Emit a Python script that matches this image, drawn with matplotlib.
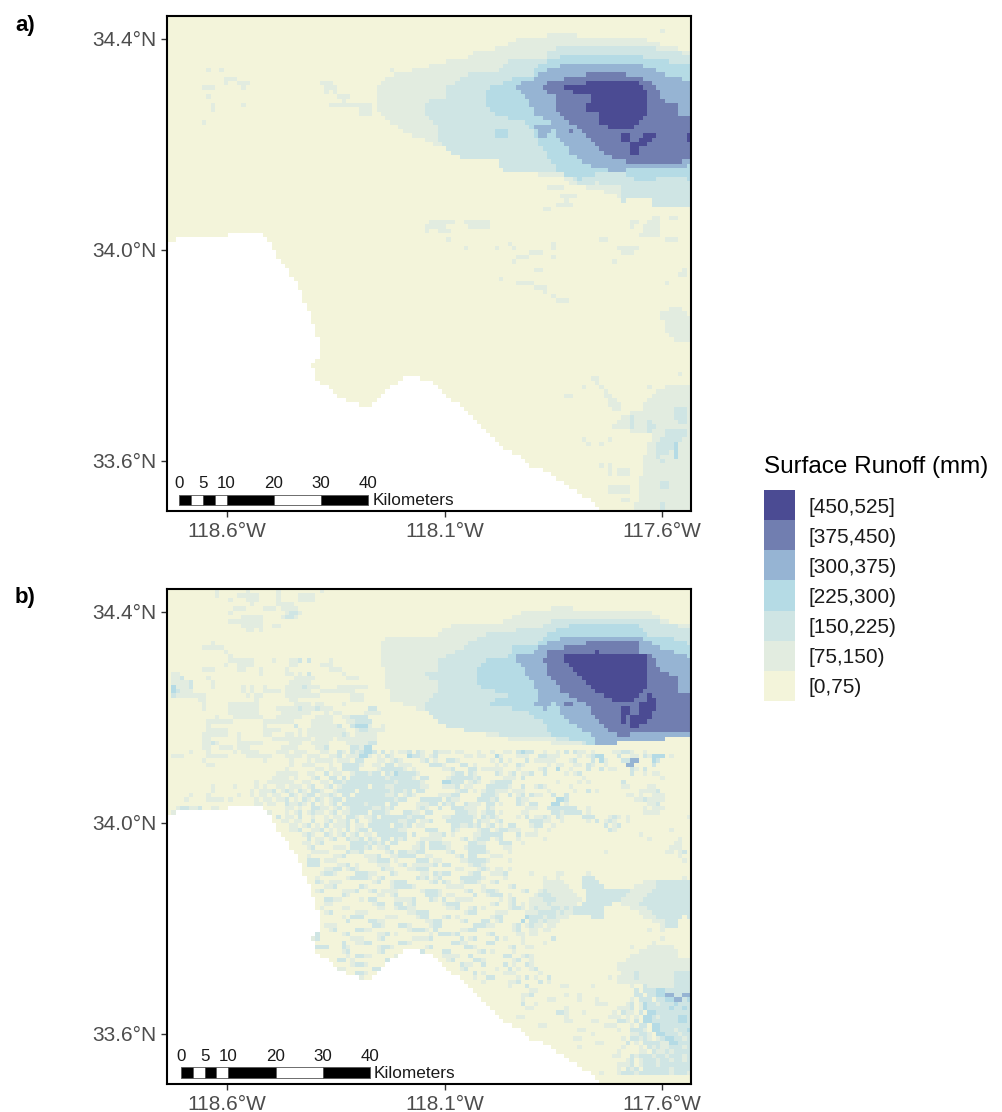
import numpy as np
import matplotlib
matplotlib.use("Agg")
import matplotlib.pyplot as plt
from matplotlib.colors import ListedColormap
from matplotlib.path import Path

plt.rcParams['font.family'] = ['Liberation Sans', 'DejaVu Sans']

# legend classes, low to high
class_labels = ["[0,75)", "[75,150)", "[150,225)", "[225,300)", "[300,375)", "[375,450)", "[450,525]"]
class_colors = ["#F3F4DA", "#E2ECE0", "#CFE5E4", "#B5DBE5", "#96B4D3", "#717EB0", "#4B4B93"]

lon_ticks = [-118.6, -118.1, -117.6]
lat_ticks = [33.6, 34.0, 34.4]
lon_labels = ["118.6°W", "118.1°W", "117.6°W"]
lat_labels = ["33.6°N", "34.0°N", "34.4°N"]
lon_lim = (-118.7386, -117.534)
lat_lim = (33.5052, 34.4436)

# coastline, sea lies below it
coast_lon = [-118.7386, -118.6811, -118.5938, -118.5294, -118.5018, -118.4834, -118.4490, -118.4260,
             -118.4030, -118.3915, -118.3915, -118.4053, -118.3938, -118.3708, -118.3409, -118.2949,
             -118.2789, -118.2375, -118.1915, -118.1340, -118.0949, -118.0490, -118.0191, -117.9800,
             -117.9271, -117.9110, -117.8582, -117.8122, -117.7662, -117.7432, -118.7386]
coast_lat = [34.0190, 34.0209, 34.0284, 34.0360, 34.0152, 33.9867, 33.9488, 33.9109,
             33.8635, 33.8294, 33.7972, 33.7820, 33.7498, 33.7460, 33.7213, 33.7043,
             33.7005, 33.7308, 33.7592, 33.7536, 33.7213, 33.6967, 33.6720, 33.6341,
             33.6076, 33.5924, 33.5773, 33.5507, 33.5261, 33.5052, 33.5052]

# runoff zones, outlines as (class, [(col, row), ...]) on the 120 x 114 raster, painted in order.
# the _crop lists are read in the 3x crop of the top right corner, see crop_to_cells
zones_a_crop = [
    (1, [(-5, 210), (30, 180), (80, 165), (180, 140), (265, 125), (280, 105), (370, 95), (410, 70), (470, 62),
         (560, 52), (620, 65), (780, 65), (820, 80), (950, 110), (950, 580), (830, 570), (810, 540), (740, 550),
         (650, 520), (570, 500), (540, 480), (370, 465), (350, 430), (250, 430), (210, 400), (170, 385),
         (100, 360), (30, 320), (-5, 290)]),
    (2, [(130, 255), (200, 250), (200, 215), (240, 190), (290, 165), (340, 170), (370, 150), (400, 125), (500, 125),
         (510, 100), (560, 88), (780, 90), (850, 100), (950, 120), (950, 570), (850, 570), (800, 540), (730, 555),
         (720, 510), (650, 500), (600, 510), (560, 470), (430, 465), (370, 470), (350, 430), (250, 430),
         (210, 405), (175, 380), (170, 330), (130, 280)]),
    (3, [(315, 220), (370, 205), (400, 180), (460, 180), (470, 150), (520, 130), (570, 115), (770, 115), (800, 130),
         (860, 135), (950, 150), (950, 490), (840, 480), (800, 500), (740, 480), (720, 450), (650, 470), (600, 490),
         (570, 480), (530, 460), (510, 430), (470, 370), (440, 320), (340, 295), (315, 260)]),
    (3, [(340, 343), (380, 343), (380, 368), (350, 368)]),
    (4, [(405, 205), (465, 190), (470, 175), (520, 155), (580, 140), (760, 140), (800, 155), (830, 165), (870, 180),
         (950, 200), (950, 445), (850, 455), (760, 450), (730, 470), (640, 455), (570, 410), (520, 340), (520, 310),
         (460, 300), (460, 280), (440, 240)]),
    (4, [(465, 330), (520, 330), (515, 350), (490, 365), (470, 355)]),
    (5, [(490, 220), (510, 190), (550, 190), (560, 178), (630, 175), (640, 165), (720, 165), (745, 180), (790, 190),
         (825, 210), (850, 255), (890, 265), (890, 290), (950, 315), (950, 430), (870, 440), (770, 440), (700, 430),
         (660, 395), (600, 340), (540, 300), (530, 270), (530, 240)]),
    (5, [(570, 343), (582, 343), (582, 356), (570, 356)]),
    (6, [(555, 205), (640, 200), (650, 190), (760, 190), (795, 215), (800, 255), (810, 260), (795, 300), (770, 325),
         (750, 340), (690, 335), (660, 320), (660, 285), (620, 290), (620, 265), (640, 250), (620, 235), (560, 225)]),
    (6, [(720, 355), (750, 355), (750, 380), (720, 380)]),
    (6, [(790, 345), (825, 345), (820, 365), (780, 395), (770, 415), (748, 415), (748, 385), (780, 375)]),
    (6, [(925, 345), (950, 345), (950, 380), (925, 380)]),
]
zones_b_crop = [
    (1, [(-5, 150), (60, 140), (170, 135), (220, 100), (370, 95), (410, 70), (470, 60), (560, 50), (590, 60), (780, 60),
         (830, 75), (880, 100), (950, 110), (950, 440), (770, 450), (640, 465), (540, 460), (400, 450), (300, 430),
         (190, 400), (130, 360), (30, 330), (10, 230)]),
    (2, [(110, 255), (175, 240), (170, 215), (260, 165), (320, 130), (390, 125), (500, 105), (520, 85), (800, 85),
         (860, 100), (950, 125), (950, 440), (770, 445), (640, 465), (500, 440), (300, 430), (190, 405), (130, 350),
         (170, 310), (170, 270)]),
    (3, [(290, 240), (320, 210), (400, 195), (400, 165), (460, 165), (510, 130), (570, 105), (770, 105), (810, 135),
         (860, 140), (950, 170), (950, 440), (780, 445), (650, 465), (500, 430), (500, 400), (430, 360), (330, 345),
         (330, 330), (400, 320), (330, 300), (290, 280)]),
    (4, [(405, 200), (460, 185), (470, 170), (530, 150), (570, 135), (760, 135), (790, 150), (860, 180), (950, 210),
         (950, 440), (780, 450), (650, 465), (640, 440), (550, 380), (520, 330), (500, 360), (460, 345), (480, 310),
         (440, 250)]),
    (5, [(490, 215), (505, 185), (555, 185), (560, 170), (620, 170), (620, 158), (770, 158), (770, 185), (810, 190),
         (840, 240), (890, 265), (890, 310), (950, 310), (950, 435), (860, 425), (710, 435), (660, 400), (620, 345),
         (540, 300), (525, 270), (515, 275), (505, 245)]),
    (5, [(555, 335), (582, 335), (582, 350), (555, 350)]),
    (6, [(555, 198), (645, 195), (650, 185), (800, 197), (800, 240), (810, 270), (790, 300), (755, 335), (710, 335),
         (650, 305), (605, 260), (555, 220)]),
    (6, [(735, 340), (750, 345), (745, 375), (725, 400), (720, 365)]),
    (6, [(800, 310), (825, 325), (822, 360), (805, 400), (748, 412), (748, 375), (775, 370), (775, 340), (795, 335)]),
]
# zones further down, already in cells
zones_a_low = [
    (1, [(108, 51), (110, 47), (113, 46), (113, 51)]),
    (1, [(114, 69), (116, 68), (121, 69), (121, 75), (116, 75), (114, 72)]),
    (1, [(109, 90), (111, 87), (115, 85), (121, 85), (121, 115), (107, 115), (109, 103), (111, 96), (102, 95),
         (104, 92), (109, 91)]),
]
zones_b_low = [
    (2, [(95, 66), (98, 66), (100, 69), (106, 69), (103, 72), (100, 73), (100, 76), (95, 75), (92, 74), (96, 72)]),
    (2, [(112, 67), (121, 67), (121, 76), (117, 75), (113, 71)]),
    (1, [(110, 85), (121, 85), (121, 92), (110, 92)]),
    (2, [(116, 88), (121, 88), (121, 92), (116, 92)]),
]

# specks of panel a: fine row -> "col-col:class"
runs_a = {
    3: "113:1", 12: "9:1 12:1 51:1", 14: "13-15:1", 15: "13:1 16-18:1 35-37:1", 16: "8-10:1 17:1 36-38:1",
    17: "36:1 38:1", 18: "9:1 39-41:1", 19: "40:1", 20: "10:1 17:1 37-46:1", 21: "10:1 44-46:1", 22: "44-46:1",
    24: "8:1", 39: "87-90:1", 41: "90-93:1", 42: "91:1", 43: "89-92:1 111-118:2", 44: "87:1 86:1", 46: "115-116:1",
    47: "60-65:1 68-73:1 106-107:1", 48: "60-63:1 69-73:1 59:1 106:1", 49: "62-64:1 59:1", 51: "64:1 99-100:1 114-116:1",
    52: "78:1 88:1", 53: "68:1 75:1 79:1 88:1 103-107:1", 54: "83-85:1 104-106:1", 55: "80-82:1 88:1",
    56: "79:1 102:1", 58: "84-85:1 118:1", 59: "117-118:1", 60: "76:1", 61: "80-83:1 114:1", 62: "84-86:1", 63: "86:1",
    64: "88:1", 65: "89-91:1", 67: "115-117:1", 68: "113-115:1", 69: "113:1", 82: "117:1", 83: "97-98:1", 84: "98:1",
    85: "95:1 99:1 110:1", 86: "100:1", 87: "91-92:1 100-101:1", 88: "101-102:1", 89: "101-103:1", 90: "102-103:1 116-118:2",
    91: "116-118:2", 92: "106:2 116-118:2", 93: "106:2 110:2 117-118:2", 94: "106:2 110-111:2", 95: "106:1 110:2 114-118:2",
    96: "114-118:2", 97: "95:1 101:1 113-117:2", 98: "96:1 99:1 112-115:2 116:3", 99: "112-115:2 116:3", 100: "112-114:2 116:3",
    101: "112:2 116:3", 102: "113:2", 103: "99:1 101:1", 104: "101:1 103-105:1", 105: "101:1 103-105:1",
    107: "113-114:2", 108: "101-105:1 113-114:2", 109: "101-105:1", 111: "104-105:1", 112: "113:2", 113: "113:2",
}

# speckle of panel b on the fine raster: "start col:classes"
rows_b = [
    "0:00000000000100000010 00000100000000010", "0:00000000000100001111 10000100001111000", "0:00000000000000100011 10000100001111",
    "0:00000000000000000001 00000111100", "0:00000000000000011100 00111011110", "0:00000000000000100000 00000001221",
    "0:00000000000000000111 11000012210", "0:00000000000000111111 11", "0:00000000000000000111 11001100", "0:00000000000000000011 0100",
    "0:", "0:", "0:000000000010", "0:000000001111100", "0:00000000000001", "0:000000000000001",
    "0:00000000000000111111 00001000112 0200001", "0:00000000000001001111 0000000011 00000111", "0:00000000111000001100 0100000100 0000000111",
    "0:01100000000000000000 0100000110 10200000001", "0:01120000010000000000 0000000001 1111000000 011100", "0:01111200001000000000 0000000011 1110000000 0",
    "0:03111200001000000101 0010000111 1211100001 11111100", "0:03211100000000000101 0011110111 1110011111 111", "0:02111111100000000010 1100000111 1111100000 00111",
    "0:00000001100000000000 1000000011 0000000000 00111", "0:00000000100000111111 1000000001 1110110 00010", "0:00000000100000111111 1000011111 2111211100 00000022",
    "0:00000000000000111111 1000001111 1110001011 000001111", "0:00000000000100011111 1100011111 1000111100 11222200", "0:00000000011111100000 0011111110 0001111100 0112222",
    "0:00000000010000000000 0010000002 0001111112 0023331001", "0:00000000011111000000 0011110000 1011111111 1001221111", "0:00000000111111001000 0011000110 1011111111 21011111",
    "0:00000000110000001000 0000111111 1110111101 11111111", "0:00000000112100001111 1100000011 1001111000 01111122",
    "0:00000000110011101110 0000001111 0000112000 0022133",
    "0:00000100010000010111 1000011101 1100011002 1021233202 0101120210 0211101100 0100100110 2322001001 0202110100 0011221001 000000",
    "0:01110000011111000011 1111000111 1011100112 0111331010 2100032210 1200000011 0110031000 1110022111 0000101233 0002001102 1333010",
    "0:00000000100000000000 0010000010 0010111101 1102200011 0121000012 0100221000 0000102010 0020111110 0012000203 1000224400 0320",
    "0:00000000011000000000 0000000010 0111000100 2222100110 2201110000 2221000220 1000010100 2100000101 1001102100 1000044000 0200",
    "0:00000000000000000000 0000000100 0000110110 2222000012 2222101000 0001120002 2011111000 1000012003 0010002002 0110002102 0",
    "0:00000000000000000000 0000011111 0011002011 0012221220 2132222100 0000012202 1000021012 0112002000 0101200000 0000002001 011",
    "0:00000000000000000000 0000111101 0001200220 2022222222 1222221022 0000122222 1200000111 0200000000 0000010000 0000000000 0001",
    "0:00000000000000000000 1001111110 0110011022 1222222222 2212222210 0003322201 2100122220 0000000001 0000101000 0000200000 00",
    "0:00000000001000010000 1010011011 1012001201 2222220222 1122222211 0001112011 0002222210 0200121000 0010000000 0000110000 11",
    "0:00000000001000000001 0111201210 2102210012 2220222222 2122120220 0000001220 1012211101 1100000100 0001002010 0000000011 112",
    "0:00000100010000001001 0110110021 0122011210 2202222222 1120121000 0011122000 0022210020 1202110020 0200000000 0000011010 0111",
    "0:00001000011110100000 1011011201 0210210122 0222222222 2212200022 2220211000 0222120000 2110000003 3200000000 0000000112 1111",
    "0:00000000000000000000 1101100211 2102010120 2222212222 0220000111 2202120021 1102201000 2102200033 0100000000 0000000000 112",
    "0:00122112001100000000 0000000110 1002211012 0122222112 1200000121 0020022211 1002100000 0011100222 2222001000 0000000001 0111",
    "0:01121211202100000000 0011000101 2012110120 1122220222 1000221102 2000002221 1012201000 0110000022 1222201000 0000000001 1110",
    "25:20110200 1001011022 1011202222 2212220000 1122222102 1210000102 0112102100 0022200012 1010000000 00000011",
    "26:1101100 2001201120 2001222222 1122011200 0222222021 1012000000 2221100100 0001020121 0010000000 000000011",
    "27:011012 0102011120 1102222202 2120110000 0022112120 1201022000 1220010000 0000000201 2000000000 00000000",
    "28:11200 1120101020 1220222222 1100002220 0021000012 2012211100 0100100000 0000000021 0000000000 001000",
    "29:0012 1002101201 2011022222 2202000111 2010000112 2222000201 1100000000 0000000000 0000010000 0000000",
    "29:0002 0110120021 1202102202 1200011111 0000120122 2012000100 0001000000 0000000000 0000000100 0000100",
    "30:011 0120000002 2221212022 0000120222 1100002211 0002220010 0000000000 0000000000 0000000000 0001100",
    "30:001 2000011102 2212011200 0001120222 2100012222 0000110000 0000000000 0000000000 0000000000 0011100",
    "31:00 1111000021 1200000120 2211220000 0120002222 1000010000 0000000000 0000000100 0000000000 0110120",
    "31:01 0000011200 0011120011 2222001100 0001202200 0111000000 0000000000 0000000000 0000000000 0000100",
    "32:2 2201110000 0001122201 0000222011 0000112222 1000010000 0000000000 0000000000 0000000000 0000010",
    "32:2 2200001120 1000011100 1201111120 2200001221 0000000000 0000000000 0000000000 0000000000 0000000",
    "33:0001122012 1000002110 0011222000 0001100012 1011010000 0000000000 0000000000 0000000000 0000000",
    "33:0012210000 2221100021 0000011021 2200001220 0111200000 1000001100 0001000000 0000000000 0000000",
    "34:100000012 2221012000 0000212012 0000222221 0000100000 0001001000 0000000000 0000000000 0000010",
    "34:210111000 0000120012 2200000120 2100122210 0120000000 0001111100 0011100000 0000001111 1111111",
    "34:001120000 0210000012 2221000000 0111100001 0000012000 0001111110 0001111000 0000111111 1111111",
    "34:120000111 2001201111 0000012221 0000012001 2210000012 0012111111 0001101000 0001111122 2222222",
    "34:000000210 0000011012 0000002221 0110000200 1222010000 0122211111 1001000000 0011111222 2222222",
    "35:02211000 0102200001 1112000210 2001111000 0001012000 1112221111 1100000000 0111112222 2222222",
    "35:01100000 0000122002 2012000000 1222000000 0120012010 1111211111 1000000000 0111122222 222222",
    "34:010000110 0000011001 2211000000 0112001201 0000012210 1211122121 1000000000 0001111222 222222",
    "34:001200000 1110000000 0011222000 0000012200 0011100001 1122221211 1000000000 0000011122 222222",
    "34:200000102 2200000111 0000122000 1201000000 0122000003 2221221110 0000000000 0000001112 22222",
    "33:2100000020 0002211000 0000001122 0000120002 2012000030 2212111000 0000000000 0000000011 1222",
    "33:0201110000 0000221000 2210000122 0000000222 1100001201 2110110000 0000000000 0000000000 1222",
    "33:0000120000 2211000000 0012221020 0000112200 0000001200 1101100000 0000000000 0000000100 1000",
    "33:2200000120 0000011201 0000000102 2212000000 1200000110 1100000000 0000000000 0000000000 0000",
    "33:1200000001 1100012000 0001111200 0000201200 0020100010 0000020000 0000000000 0000000000 1000",
    "36:0000200 1122000000 2210000000 0022110000 2200000010 0001000000 0000000000 0000000010 0000",
    "33:0222000210 0000012210 0000001200 0000022100 0000012001 1000000000 0000000000 0001000111 1110",
    "38:00120 0000012000 0011120000 2200000012 0100001000 0000000000 0000000000 0000011111 1111",
    "36:0000010 2211000001 0000000200 1111002000 0000220012 1000000000 0000000000 0001111111 1111",
    "37:002201 0000000201 0000000000 0120000221 0000001200 1000000000 0000000000 0011111111 1111",
    "37:000001 2210000000 0000000000 0000211002 0000201002 1000000000 0000000000 1111111122 2222",
    "38:01100 0000222100 0000000000 0000120000 0010020100 1200000000 0000000000 1111111122 2222",
    "39:0000 2210000000 0000000000 0000000201 0000111000 0010000000 0000000000 0111211122 222",
    "40:002 0100000000 0000000000 0000000100 2200000102 0100200000 0000000010 1111211122 2",
    "43:0 1000000000 0000000000 0000000010 0000112000 0201000000 0000000001 1111112111 1122",
    "60:0000000000 0000000010 0020000000 1100000100 0000001002 2223322222 222",
    "62:00000000 0000000000 0001100000 0000000000 0000000202 2233222222 22",
    "69:0 0000000000 0112000000 0100100000 0000000220 2233442244 2",
    "71:0 0000000001 0000011000 0010001000 0000102220 2233442334 2",
    "72:00 0000000200 1000000000 0000111000 0120132212 2232223222",
    "72:00 0000000011 0000000100 0000000001 1120132222 2322322322",
    "74:0 0000000000 0000221000 1000000102 1102033222 2222232222",
    "76:0 0001100000 0000100000 0000111010 1033212222 3322222",
    "76:0 0000000000 0000110000 1100002210 2033222222 3322222",
    "78:0 0000001100 0000000000 0111000102 2033222222 2322222",
    "80:0 0000000000 0001100000 0010022210 3322212232 222",
    "82:0 0000000000 0000100000 0001122103 3222122232 222",
    "85:0 0000000110 0000000010 2212101233 2212213222",
    "87:0 0000000000 1100000201 0222211332 2221221222",
    "89:0 0000100000 0000100010 2121122212 22122222",
    "90:0 0000000000 0010000110 2112122222 2212222",
    "91:0 0000000000 1100212221 2212221222 12222",
    "93:0 0000000000 0120122212 2122122222 22",
    "95:0 0000000111 2012221222 2222212",
    "97:0 0000010212 0222222122 222122",
    "98:01 0001222122 2222212221 22121",
]


def crop_to_cells(points, row0):
    # 3x crop, x origin at cell 48.8, a raster cell is 13.1 x 13 crop pixels
    return [(48.8 + x / 13.1, row0 + y / 13.0) for x, y in points]


def build_grid(base_rows, runs, zones, n_rows=114, n_cols=120):
    grid = np.zeros((n_rows, n_cols), dtype=float)
    lon_e = np.linspace(lon_lim[0], lon_lim[1], n_cols + 1)
    lat_e = np.linspace(lat_lim[1], lat_lim[0], n_rows + 1)
    for r, row in enumerate(base_rows[:n_rows]):
        start, digits = row.split(":")
        digits = digits.replace(" ", "")
        vals = [int(ch) for ch in digits][:n_cols - int(start)]
        grid[r, int(start):int(start) + len(vals)] = vals
    cc, rr = np.meshgrid(np.arange(n_cols) + 0.5, np.arange(n_rows) + 0.5)
    cells = np.column_stack([cc.ravel(), rr.ravel()])
    for k, poly in zones:
        inside = Path(poly + poly[:1]).contains_points(cells).reshape(grid.shape)
        grid[inside] = k
    for r, spec in runs.items():
        for part in spec.split():
            cols, k = part.split(":")
            lo, _, hi = cols.partition("-")
            grid[r, int(lo):int(hi or lo) + 1] = int(k)
    # sea is left out
    cx = (lon_e[:-1] + lon_e[1:]) / 2
    cy = (lat_e[:-1] + lat_e[1:]) / 2
    mx, my = np.meshgrid(cx, cy)
    sea = Path(np.column_stack([coast_lon, coast_lat])).contains_points(
        np.column_stack([mx.ravel(), my.ravel()])).reshape(mx.shape)
    return lon_e, lat_e, np.ma.masked_where(sea, grid)


W, H = 1003, 1112
fig = plt.figure(figsize=(W / 100, H / 100), dpi=100, facecolor="white")


def px_axes(x0, y0, x1, y1):
    return fig.add_axes([x0 / W, 1 - y1 / H, (x1 - x0) / W, (y1 - y0) / H])


cmap = ListedColormap(class_colors)
scale_km = [0, 2.5, 5, 7.5, 10, 20, 30, 40]
scale_ticks = [0, 5, 10, 20, 30, 40]
deg_per_km = 0.01087


def draw_panel(box, grid_rows, runs, zones, letter, letter_y, bar_lon, bar_lat):
    ax = px_axes(*box)
    lon_e, lat_e, data = build_grid(grid_rows, runs, zones)
    ax.pcolormesh(lon_e, lat_e, data, cmap=cmap, vmin=-0.5, vmax=6.5, antialiased=False, linewidth=0)
    ax.set_xlim(lon_lim)
    ax.set_ylim(lat_lim)
    ax.set_xticks(lon_ticks, lon_labels)
    ax.set_yticks(lat_ticks, lat_labels)
    ax.tick_params(length=4.2, width=1, color="#333333", labelcolor="#4D4D4D", labelsize=15, pad=3.5)
    ax.tick_params(axis="x", pad=3.5)
    for s in ax.spines.values():
        s.set_linewidth(1.5)

    # scale bar
    for i in range(len(scale_km) - 1):
        ax.fill_between([bar_lon + scale_km[i] * deg_per_km, bar_lon + scale_km[i + 1] * deg_per_km],
                        bar_lat, bar_lat + 0.019, facecolor="black" if i % 2 == 0 else "white",
                        edgecolor="#555555", linewidth=0.6, zorder=3)
    for km in scale_ticks:
        ax.text(bar_lon + km * deg_per_km, bar_lat + 0.0265, str(km), ha="center", va="bottom",
                fontsize=12.2, color="#1A1A1A")
    ax.text(bar_lon + 40.8 * deg_per_km, bar_lat + 0.0085, "Kilometers", ha="left", va="center",
            fontsize=12.4, color="#1A1A1A")
    fig.text(15 / W, 1 - letter_y / H, letter, fontsize=16, fontweight="bold", va="center", ha="left")
    return ax


zones_a = [(k, crop_to_cells(p, 0.0)) for k, p in zones_a_crop] + zones_a_low
zones_b = zones_b_low + [(k, crop_to_cells(p, 0.23)) for k, p in zones_b_crop]
draw_panel((167, 16, 691, 511), [], runs_a, zones_a, "a)", 25, -118.7103, 33.5157)
draw_panel((167, 589, 691, 1084), rows_b, {}, zones_b, "b)", 597, -118.7064, 33.5175)

# legend
leg = px_axes(764, 490, 795, 701)
leg.barh(range(len(class_labels)), [1] * len(class_labels), height=1, color=class_colors)
leg.set_xlim(0, 1)
leg.set_ylim(-0.5, 6.5)
leg.set_xticks([])
leg.yaxis.tick_right()
leg.set_yticks(range(len(class_labels)), class_labels)
leg.tick_params(axis="y", length=0, labelsize=15, pad=9.5, labelcolor="#1A1A1A")
for s in leg.spines.values():
    s.set_visible(False)
fig.text(764 / W, 1 - 467 / H, "Surface Runoff (mm)", fontsize=17.5, va="center", ha="left", color="black")

fig.savefig("out.png", dpi=100, facecolor="white")
